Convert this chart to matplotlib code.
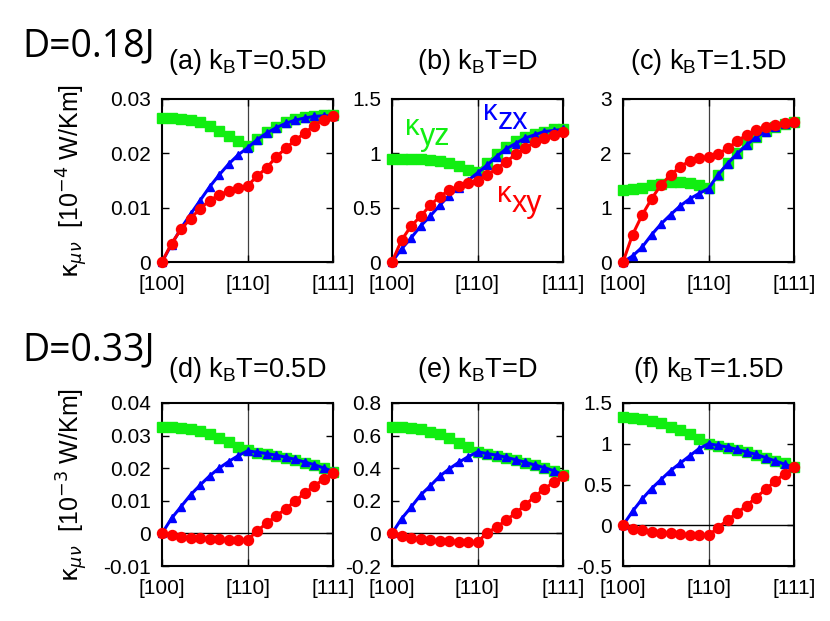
import numpy as np
import matplotlib
matplotlib.use('Agg')
import matplotlib.pyplot as plt
from matplotlib.ticker import FuncFormatter

# --- DADOS ---
# posicao ao longo do caminho [100] -> [110] -> [111]
path_x = np.arange(19)
path_ticks = [0, 9, 18]
path_labels = ['[100]', '[110]', '[111]']

# D=0.18J  (unidade 10^-4 W/Km)
xy_a = [0, 0.0034, 0.006, 0.008, 0.0098, 0.0113, 0.0123, 0.0131, 0.0137, 0.014,
        0.0158, 0.0173, 0.0193, 0.0209, 0.0224, 0.0237, 0.0251, 0.0262, 0.0268]
zx_a = [0, 0.0032, 0.0062, 0.0088, 0.0113, 0.0138, 0.016, 0.018, 0.0197, 0.021,
        0.0225, 0.0237, 0.0247, 0.0255, 0.0261, 0.0265, 0.0268, 0.0269, 0.0269]
yz_a = [0.0265, 0.0265, 0.0263, 0.0261, 0.0257, 0.0251, 0.0242, 0.0232, 0.0222, 0.0213,
        0.0227, 0.0239, 0.0249, 0.0257, 0.0263, 0.0267, 0.0269, 0.027, 0.027]

xy_b = [0, 0.2, 0.33, 0.42, 0.52, 0.6, 0.66, 0.7, 0.73, 0.75,
        0.8, 0.86, 0.92, 0.99, 1.05, 1.1, 1.14, 1.17, 1.2]
zx_b = [0, 0.12, 0.22, 0.33, 0.42, 0.52, 0.61, 0.68, 0.75, 0.82,
        0.89, 0.97, 1.04, 1.09, 1.14, 1.17, 1.2, 1.21, 1.22]
yz_b = [0.95, 0.95, 0.95, 0.95, 0.94, 0.93, 0.91, 0.88, 0.85, 0.83,
        0.91, 0.99, 1.06, 1.11, 1.15, 1.18, 1.2, 1.22, 1.22]

xy_c = [0, 0.5, 0.86, 1.16, 1.42, 1.6, 1.75, 1.86, 1.91, 1.94,
        1.99, 2.09, 2.22, 2.34, 2.43, 2.49, 2.53, 2.56, 2.57]
zx_c = [0, 0.11, 0.27, 0.5, 0.7, 0.87, 1.03, 1.16, 1.26, 1.35,
        1.6, 1.81, 1.99, 2.15, 2.3, 2.4, 2.48, 2.54, 2.57]
yz_c = [1.33, 1.35, 1.37, 1.41, 1.44, 1.47, 1.47, 1.45, 1.42, 1.37,
        1.6, 1.82, 2.0, 2.17, 2.3, 2.41, 2.49, 2.54, 2.58]

# D=0.33J  (unidade 10^-3 W/Km)
xy_d = [0, -0.0005, -0.001, -0.0013, -0.0015, -0.0017, -0.0018, -0.0019, -0.0019, -0.002,
        0.0007, 0.0031, 0.0053, 0.0075, 0.0099, 0.0123, 0.0145, 0.0166, 0.0186]
zx_d = [0, 0.0046, 0.0082, 0.0118, 0.0148, 0.0176, 0.02, 0.022, 0.0238, 0.0253,
        0.0249, 0.0245, 0.024, 0.0234, 0.0227, 0.0219, 0.0211, 0.0201, 0.019]
yz_d = [0.0327, 0.0327, 0.0324, 0.032, 0.0314, 0.0305, 0.0293, 0.0281, 0.0266, 0.0256,
        0.0248, 0.0243, 0.0238, 0.0232, 0.0225, 0.0217, 0.0209, 0.02, 0.0189]

xy_e = [0, -0.015, -0.027, -0.035, -0.041, -0.045, -0.047, -0.051, -0.053, -0.055,
        0.005, 0.037, 0.082, 0.123, 0.174, 0.225, 0.272, 0.313, 0.354]
zx_e = [0, 0.09, 0.16, 0.235, 0.29, 0.35, 0.395, 0.435, 0.47, 0.5,
        0.49, 0.48, 0.467, 0.452, 0.437, 0.42, 0.404, 0.385, 0.36]
yz_e = [0.654, 0.654, 0.648, 0.638, 0.624, 0.607, 0.587, 0.556, 0.528, 0.501,
        0.486, 0.476, 0.463, 0.449, 0.433, 0.418, 0.401, 0.38, 0.358]

xy_f = [0, -0.04, -0.06, -0.08, -0.09, -0.1, -0.105, -0.115, -0.12, -0.125,
        -0.03, 0.065, 0.15, 0.24, 0.34, 0.44, 0.54, 0.63, 0.71]
zx_f = [0, 0.17, 0.32, 0.45, 0.56, 0.67, 0.76, 0.85, 0.94, 1.0,
        0.98, 0.96, 0.93, 0.9, 0.87, 0.83, 0.79, 0.75, 0.71]
yz_f = [1.325, 1.32, 1.305, 1.28, 1.25, 1.21, 1.17, 1.12, 1.06, 1.0,
        0.977, 0.953, 0.924, 0.896, 0.863, 0.83, 0.793, 0.76, 0.72]

titles = ['(a) k$_\\mathregular{B}$T=0.5D', '(b) k$_\\mathregular{B}$T=D', '(c) k$_\\mathregular{B}$T=1.5D',
          '(d) k$_\\mathregular{B}$T=0.5D', '(e) k$_\\mathregular{B}$T=D', '(f) k$_\\mathregular{B}$T=1.5D']
ylims = [(0, 0.03), (0, 1.5), (0, 3), (-0.01, 0.04), (-0.2, 0.8), (-0.5, 1.5)]
yticks = [[0, 0.01, 0.02, 0.03], [0, 0.5, 1, 1.5], [0, 1, 2, 3],
          [-0.01, 0, 0.01, 0.02, 0.03, 0.04], [-0.2, 0, 0.2, 0.4, 0.6, 0.8], [-0.5, 0, 0.5, 1, 1.5]]
panels = [(xy_a, zx_a, yz_a), (xy_b, zx_b, yz_b), (xy_c, zx_c, yz_c),
          (xy_d, zx_d, yz_d), (xy_e, zx_e, yz_e), (xy_f, zx_f, yz_f)]

RED = '#ff0000'
BLUE = '#0000ff'
GREEN = '#11ee11'

# --- FIGURA ---
plt.rcParams['font.family'] = ['Liberation Sans', 'DejaVu Sans']
plt.rcParams['axes.unicode_minus'] = False
plt.rcParams['mathtext.fontset'] = 'dejavusans'

W, H = 830, 621
fig = plt.figure(figsize=(W / 100, H / 100), dpi=100)

# posicoes dos eixos em pixels (esquerda, topo)
lefts = [162, 392, 623]
tops = [99, 403]
aw, ah = 171, 163

axes = []
for r in range(2):
    for c in range(3):
        ax = fig.add_axes([lefts[c] / W, 1 - (tops[r] + ah) / H, aw / W, ah / H])
        axes.append(ax)

for i, ax in enumerate(axes):
    xy, zx, yz = panels[i]
    ax.plot(path_x, yz, color=GREEN, lw=2, marker='s', ms=6.5, clip_on=False, zorder=3)
    ax.plot(path_x, zx, color=BLUE, lw=2.2, marker='^', ms=5.5, clip_on=False, zorder=4)
    ax.plot(path_x, xy, color=RED, lw=2.2, marker='o', ms=7.2, clip_on=False, zorder=5)

    ax.axvline(9, color='0.25', lw=0.9, zorder=1)
    if ylims[i][0] < 0:
        ax.axhline(0, color='k', lw=1, zorder=1)

    ax.set_xlim(0, 18)
    ax.set_ylim(*ylims[i])
    ax.set_xticks(path_ticks)
    ax.set_xticklabels(path_labels)
    ax.set_yticks(yticks[i])
    ax.yaxis.set_major_formatter(FuncFormatter(lambda v, p: f'{v:g}'))
    ax.tick_params(direction='in', length=5, width=1, labelsize=15,
                   right=True, top=True)
    ax.tick_params(axis='y', pad=8)
    ax.tick_params(axis='x', pad=9)
    for s in ax.spines.values():
        s.set_linewidth(1.5)

    tb = 1.185 if i < 3 else 1.16
    ax.text(0.5, tb, titles[i], transform=ax.transAxes, ha='center', va='baseline', fontsize=19.5)

# rotulos das linhas (so no painel b)
def kappa_label(ax, x, y, sub, color):
    ax.text(x, y, 'κ', color=color, fontsize=21, ha='right', va='baseline', zorder=6)
    ax.annotate(sub, (x, y), xytext=(0, -7), textcoords='offset points',
                color=color, fontsize=22, ha='left', va='baseline', zorder=6)

kappa_label(axes[1], 2.93, 1.17, 'yz', GREEN)
kappa_label(axes[1], 11.09, 1.31, 'zx', BLUE)
kappa_label(axes[1], 12.56, 0.55, 'xy', RED)

# rotulos do eixo y
fig.text(72 / W, 1 - 181 / H, r'$\mathrm{\kappa}_{\mu\nu}$  [10$^{-4}$ W/Km]', rotation=90,
         ha='center', va='center', fontsize=18)
fig.text(72 / W, 1 - 485 / H, r'$\mathrm{\kappa}_{\mu\nu}$  [10$^{-3}$ W/Km]', rotation=90,
         ha='center', va='center', fontsize=18)

# rotulos D
fig.text(22 / W, 1 - 56 / H, 'D=0.18J', fontsize=27, family='Open Sans', va='baseline')
fig.text(22 / W, 1 - 360 / H, 'D=0.33J', fontsize=27, family='Open Sans', va='baseline')

fig.savefig('out.png', dpi=100)
